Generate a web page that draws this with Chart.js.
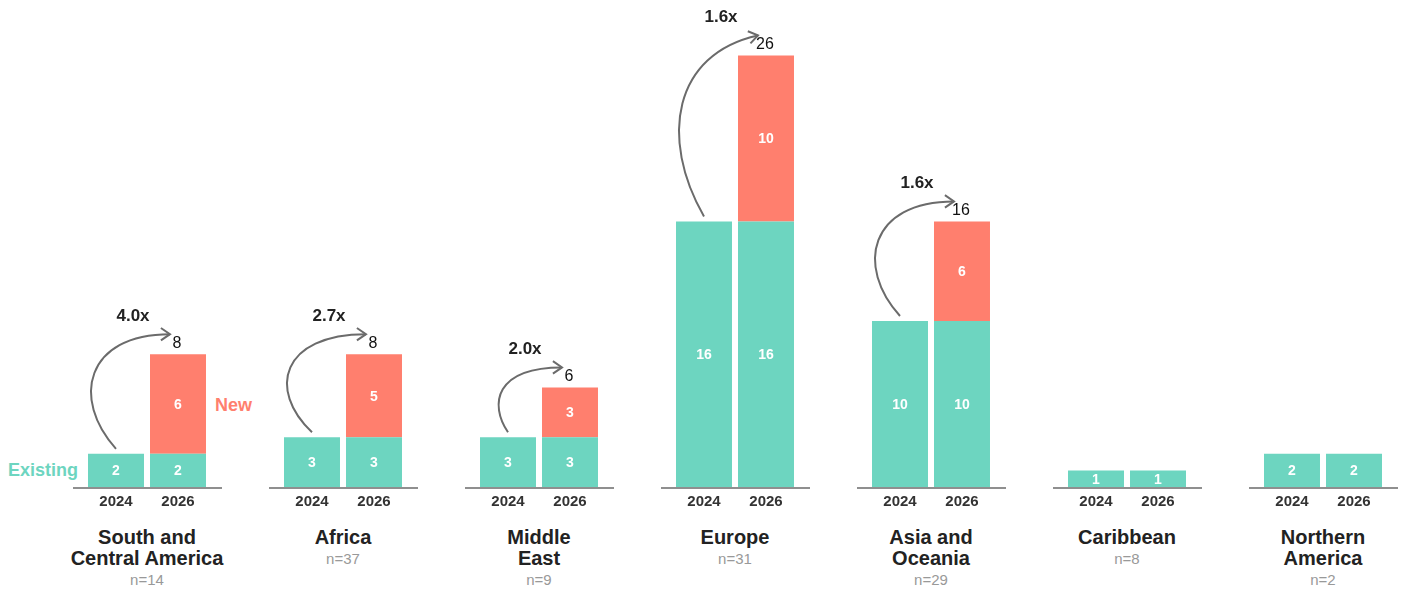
<!DOCTYPE html>
<html>
<head>
<meta charset="utf-8">
<script src="https://cdn.jsdelivr.net/npm/chart.js@4.4.1/dist/chart.umd.min.js"></script>
<style>
body{margin:0;background:#fff;width:1403px;height:589px;overflow:hidden;position:relative;font-family:"Liberation Sans",Arial,sans-serif}
.grp{position:absolute;top:0;width:196px;height:528px}
.name{position:absolute;top:527px;width:196px;text-align:center;font-weight:bold;font-size:20px;line-height:21px;color:#222;white-space:pre-line}
.n{display:block;font-weight:normal;font-size:15px;color:#999}
.key{position:absolute;font-weight:bold;font-size:18px;line-height:18px}
</style>
</head>
<body>
<div class="key" style="left:8px;top:461px;color:#6dd5c0">Existing</div>
<div class="key" style="left:215px;top:396px;color:#ff7f6e">New</div>
<script>
const regions = ['South and\nCentral America', 'Africa', 'Middle\nEast', 'Europe', 'Asia and\nOceania', 'Caribbean', 'Northern\nAmerica'];
const sampleSizes = [14, 37, 9, 31, 29, 8, 2];
const years = ['2024', '2026'];
const existing2024 = [2, 3, 3, 16, 10, 1, 2];
const existing2026 = [2, 3, 3, 16, 10, 1, 2];
const new2024 = [0, 0, 0, 0, 0, 0, 0];
const new2026 = [6, 5, 3, 10, 6, 0, 0];

const teal = '#6dd5c0';
const salmon = '#ff7f6e';
const fam = '"Liberation Sans", Arial, sans-serif';
Chart.defaults.font.family = fam;

// baseline, values in bars, growth arrow and totals
const annotate = {
  id: 'annotate',
  afterDatasetsDraw(chart) {
    const ctx = chart.ctx, area = chart.chartArea;
    const ds = chart.data.datasets;
    const m0 = chart.getDatasetMeta(0).data, m1 = chart.getDatasetMeta(1).data;
    ctx.save();
    ctx.strokeStyle = '#8f8f8f';
    ctx.lineWidth = 2;
    ctx.beginPath();
    ctx.moveTo(area.left - 12, area.bottom + 1);
    ctx.lineTo(area.right + 13, area.bottom + 1);
    ctx.stroke();

    ctx.fillStyle = '#fff';
    ctx.font = 'bold 14px ' + fam;
    ctx.textAlign = 'center';
    ctx.textBaseline = 'middle';
    ds.forEach((d, k) => {
      chart.getDatasetMeta(k).data.forEach((bar, i) => {
        if (d.data[i] > 0) ctx.fillText(d.data[i], bar.x, (bar.y + bar.base) / 2 + 1);
      });
    });

    const t24 = ds[0].data[0] + ds[1].data[0];
    const t26 = ds[0].data[1] + ds[1].data[1];
    if (t26 > t24) {
      const top24 = Math.min(m0[0].y, m1[0].y);
      const top26 = m1[1].y;
      const sx = m0[0].x, sy = top24 - 5;
      const ex = m1[1].x - 8, ey = top26 - 20;
      const h = sy - ey;
      const b = Math.min(28, Math.max(4, (h - 50) * 0.8));
      const p1x = sx - 1.6 * b, p1y = sy - 0.43 * h;
      const p2x = sx - 1.1 * b, p2y = ey + Math.max(0, h - 120) * 0.3;
      ctx.strokeStyle = '#6b6b6b';
      ctx.lineWidth = 2;
      ctx.beginPath();
      ctx.moveTo(sx, sy);
      ctx.bezierCurveTo(p1x, p1y, p2x, p2y, ex, ey);
      ctx.stroke();
      const a = Math.atan2(ey - p2y, ex - p2x);
      ctx.beginPath();
      ctx.moveTo(ex - 11 * Math.cos(a - 0.6), ey - 11 * Math.sin(a - 0.6));
      ctx.lineTo(ex, ey);
      ctx.lineTo(ex - 11 * Math.cos(a + 0.6), ey - 11 * Math.sin(a + 0.6));
      ctx.stroke();

      ctx.fillStyle = '#222';
      ctx.font = 'bold 17px ' + fam;
      ctx.fillText((t26 / t24).toFixed(1) + 'x', sx + 17, ey - 18);
      ctx.fillStyle = '#111';
      ctx.font = '16px ' + fam;
      ctx.fillText(t26, m1[1].x - 1, top26 - 11);
    }
    ctx.restore();
  }
};

const wraps = [];
const charts = [];
regions.forEach((name, i) => {
  const wrap = document.createElement('div');
  wrap.className = 'grp';
  wrap.style.left = (49 + 196 * i) + 'px';
  const cv = document.createElement('canvas');
  cv.width = 196;
  cv.height = 528;
  wrap.appendChild(cv);
  document.body.appendChild(wrap);
  wraps.push(wrap);

  const label = document.createElement('div');
  label.className = 'name';
  label.style.left = (49 + 196 * i) + 'px';
  label.textContent = name;
  const n = document.createElement('span');
  n.className = 'n';
  n.textContent = 'n=' + sampleSizes[i];
  label.appendChild(n);
  document.body.appendChild(label);

  charts.push(new Chart(cv, {
    type: 'bar',
    data: {
      labels: years,
      datasets: [
        { label: 'Existing', data: [existing2024[i], existing2026[i]], backgroundColor: teal },
        { label: 'New', data: [new2024[i], new2026[i]], backgroundColor: salmon }
      ]
    },
    options: {
      responsive: false,
      animation: false,
      devicePixelRatio: 1,
      barPercentage: 0.903,
      categoryPercentage: 1,
      layout: { padding: { left: 36, right: 36, top: 0, bottom: 0 } },
      scales: {
        x: {
          stacked: true,
          grid: { display: false, drawTicks: false },
          border: { display: false },
          ticks: { color: '#333', padding: 6, font: { size: 15, weight: 'bold' } }
        },
        y: { stacked: true, display: false, min: 0, max: 30 }
      },
      plugins: { legend: { display: false }, tooltip: { enabled: false } }
    },
    plugins: [annotate]
  }));
});

// put the bar baseline at y=487 on the page
const shift = 487 - charts[0].chartArea.bottom;
wraps.forEach(w => { w.style.top = shift + 'px'; });
</script>
</body>
</html>
